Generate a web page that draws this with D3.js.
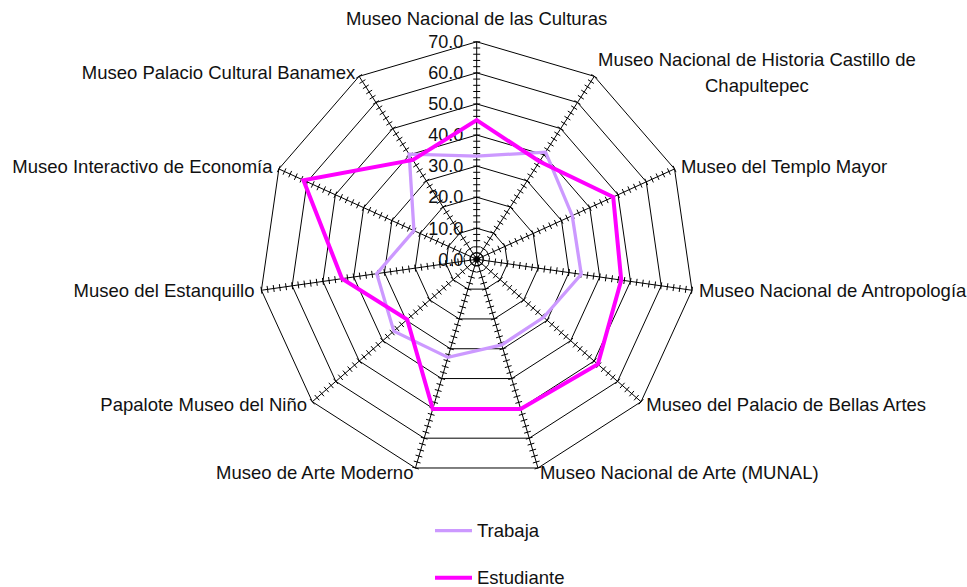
<!DOCTYPE html>
<html><head><meta charset="utf-8">
<script src="https://cdn.jsdelivr.net/npm/d3@7"></script>
<style>
html,body{margin:0;padding:0;background:#fff;}
text{font-family:"Liberation Sans",Arial,sans-serif;fill:#111;}
</style></head>
<body><svg id="c" width="967" height="587"></svg>
<script>
const categories = [
  "Museo Nacional de las Culturas",
  "Museo Nacional de Historia Castillo de|Chapultepec",
  "Museo del Templo Mayor",
  "Museo Nacional de Antropología",
  "Museo del Palacio de Bellas Artes",
  "Museo Nacional de Arte (MUNAL)",
  "Museo de Arte Moderno",
  "Papalote Museo del Niño",
  "Museo del Estanquillo",
  "Museo Interactivo de Economía",
  "Museo Palacio Cultural Banamex"
];
const trabaja    = [33.2, 41.0, 33.8, 34.0, 28.5, 28.7, 32.9, 35.3, 32.5, 22.2, 40.2];
const estudiante = [44.8, 37.4, 48.3, 47.0, 51.6, 50.2, 50.2, 29.6, 43.8, 61.3, 38.0];
const seriesNames = ["Trabaja", "Estudiante"];
const valueTicks = [0, 10, 20, 30, 40, 50, 60, 70];

const svg = d3.select("#c");
const cx = 476.7, cy = 259.3, R = 217.5;
const r = d3.scaleLinear().domain([0, 70]).range([0, R]);
const n = categories.length;
const ang = d3.scaleLinear().domain([0, n]).range([0, 2 * Math.PI]);
const pt = (i, v) => [cx + r(v) * Math.sin(ang(i)), cy - r(v) * Math.cos(ang(i))];

const g = svg.append("g");
// grid polygons
valueTicks.filter(v => v > 0).forEach(v => {
  g.append("path")
    .attr("d", d3.line()(d3.range(n).map(i => pt(i, v))) + "Z")
    .attr("fill", "none").attr("stroke", "#000").attr("stroke-width", 1);
});
// axes with ticks
const minor = d3.range(0, 70.001, 2);
d3.range(n).forEach(i => {
  const [x1, y1] = pt(i, 70);
  g.append("line").attr("x1", cx).attr("y1", cy).attr("x2", x1).attr("y2", y1)
    .attr("stroke", "#000").attr("stroke-width", 1);
  const a = ang(i), px = Math.cos(a), py = Math.sin(a);
  minor.forEach(v => {
    const [x, y] = pt(i, v);
    g.append("line")
      .attr("x1", x - 3.5 * px).attr("y1", y - 3.5 * py)
      .attr("x2", x + 3.5 * px).attr("y2", y + 3.5 * py)
      .attr("stroke", "#000").attr("stroke-width", 1);
  });
});
// value labels
valueTicks.forEach(v => {
  g.append("text").attr("x", cx - 13.5).attr("y", cy - r(v)).attr("dy", "0.35em")
    .attr("text-anchor", "end").style("font-size", "18px")
    .text(d3.format(".1f")(v));
});
// series
const colors = ["#CC99FF", "#FF00FF"];
const widths = [3.3, 4];
[trabaja, estudiante].forEach((s, k) => {
  g.append("path")
    .attr("d", d3.line()(s.map((v, i) => pt(i, v))) + "Z")
    .attr("fill", "none").attr("stroke", colors[k]).attr("stroke-width", widths[k])
    .attr("stroke-linejoin", "miter");
});
// category labels
categories.forEach((c, i) => {
  const a = ang(i), s = Math.sin(a), co = Math.cos(a);
  const [x, y] = pt(i, 70);
  const lines = c.split("|");
  const t = g.append("text").style("font-size", "18.5px").attr("text-anchor", "middle");
  const ts = lines.map(l => t.append("tspan").text(l));
  const w = d3.max(ts, d => d.node().getComputedTextLength());
  const lh = 26;
  let bx, by;
  if (Math.abs(s) < 0.01) { bx = x; by = y - 23; }
  else {
    const dx = 7 * s;
    bx = s > 0 ? x + dx + w / 2 : x + dx - w / 2;
    by = y - 5 * co;
  }
  ts.forEach((tt, j) => {
    tt.attr("x", bx).attr("y", by + (j - (lines.length - 1) / 2) * lh).attr("dy", "0.35em");
  });
});
// legend
seriesNames.forEach((name, k) => {
  const ly = 530.7 + k * 47;
  svg.append("line").attr("x1", 435).attr("x2", 472).attr("y1", ly).attr("y2", ly)
    .attr("stroke", colors[k]).attr("stroke-width", widths[k]);
  svg.append("text").attr("x", 477).attr("y", ly).attr("dy", "0.35em")
    .style("font-size", "18.5px").text(name);
});
</script></body></html>
